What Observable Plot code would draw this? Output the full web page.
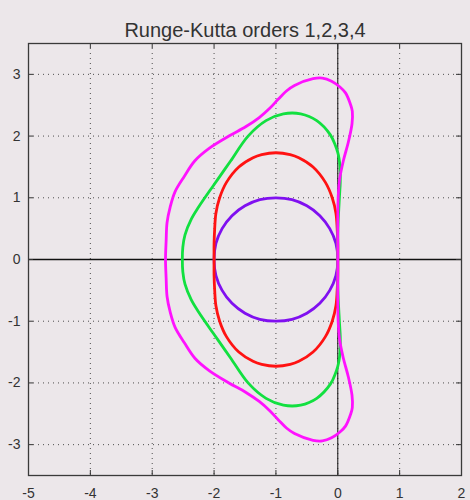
<!DOCTYPE html>
<html><head><meta charset="utf-8">
<script src="https://cdn.jsdelivr.net/npm/d3@7"></script>
<script src="https://cdn.jsdelivr.net/npm/@observablehq/plot@0.6"></script>
<style>
html,body{margin:0;padding:0;background:#ece7ea;overflow:hidden;}
</style></head><body>
<div id="chart"></div>
<script>
const title = "Runge-Kutta orders 1,2,3,4";
const xTicks = [-5, -4, -3, -2, -1, 0, 1, 2];
const yTicks = [-3, -2, -1, 0, 1, 2, 3];
const xDomain = [-5, 2];
const yDomain = [-3.5, 3.5];
const orderColors = ["#8010f0", "#ff1212", "#12e040", "#ff12ff"];

// order 1 boundary
const rk1 = [[0,0],[-0.03,0.26],[-0.13,0.5],[-0.29,0.71],[-0.5,0.87],[-0.74,0.97],[-1,1],[-1.26,0.97],[-1.5,0.87],[-1.71,0.71],[-1.87,0.5],[-1.97,0.26],[-2,0],[-1.97,-0.26],[-1.87,-0.5],[-1.71,-0.71],[-1.5,-0.87],[-1.26,-0.97],[-1,-1],[-0.74,-0.97],[-0.5,-0.87],[-0.29,-0.71],[-0.13,-0.5],[-0.03,-0.26]];
// order 2 boundary
const rk2 = [[0,0],[0,0.25],[-0.01,0.5],[-0.03,0.75],[-0.09,1.0],[-0.2,1.25],[-0.4,1.5],[-0.63,1.65],[-0.77,1.7],[-1,1.73],[-1.23,1.7],[-1.37,1.65],[-1.6,1.5],[-1.8,1.25],[-1.91,1.0],[-1.97,0.75],[-1.99,0.5],[-2,0.25],[-2,0],[-2,-0.25],[-1.99,-0.5],[-1.97,-0.75],[-1.91,-1.0],[-1.8,-1.25],[-1.6,-1.5],[-1.37,-1.65],[-1.23,-1.7],[-1,-1.73],[-0.77,-1.7],[-0.63,-1.65],[-0.4,-1.5],[-0.2,-1.25],[-0.09,-1.0],[-0.03,-0.75],[-0.01,-0.5],[0,-0.25]];
// order 3 boundary
const rk3 = [[0,0],[0.002,0.5],[0.026,1.0],[0.04,1.25],[0.037,1.5],[0.018,1.65],[0,1.73],[-0.04,1.85],[-0.12,2.02],[-0.34,2.25],[-0.6,2.36],[-0.88,2.36],[-1.16,2.25],[-1.45,2.0],[-1.73,1.6],[-1.87,1.4],[-2.01,1.2],[-2.25,0.85],[-2.37,0.65],[-2.47,0.4],[-2.505,0.2],[-2.513,0],[-2.505,-0.2],[-2.47,-0.4],[-2.37,-0.65],[-2.25,-0.85],[-2.01,-1.2],[-1.87,-1.4],[-1.73,-1.6],[-1.45,-2.0],[-1.16,-2.25],[-0.88,-2.36],[-0.6,-2.36],[-0.34,-2.25],[-0.12,-2.02],[-0.04,-1.85],[0,-1.73],[0.018,-1.65],[0.037,-1.5],[0.04,-1.25],[0.026,-1.0],[0.002,-0.5]];
// order 4 boundary
const rk4 = [[0,0],[0,0.5],[0.006,1.0],[0.03,1.3],[0.09,1.6],[0.17,1.9],[0.23,2.2],[0.235,2.4],[0.21,2.5],[0.125,2.7],[0.03,2.8],[-0.1,2.89],[-0.25,2.94],[-0.4,2.93],[-0.7,2.82],[-0.83,2.73],[-0.96,2.6],[-1.1,2.45],[-1.27,2.3],[-1.49,2.15],[-1.76,2.0],[-2.08,1.8],[-2.31,1.6],[-2.48,1.35],[-2.63,1.1],[-2.71,0.85],[-2.76,0.6],[-2.775,0.3],[-2.785,0],[-2.775,-0.3],[-2.76,-0.6],[-2.71,-0.85],[-2.63,-1.1],[-2.48,-1.35],[-2.31,-1.6],[-2.08,-1.8],[-1.76,-2.0],[-1.49,-2.15],[-1.27,-2.3],[-1.1,-2.45],[-0.96,-2.6],[-0.83,-2.73],[-0.7,-2.82],[-0.4,-2.93],[-0.25,-2.94],[-0.1,-2.89],[0.03,-2.8],[0.125,-2.7],[0.21,-2.5],[0.235,-2.4],[0.23,-2.2],[0.17,-1.9],[0.09,-1.6],[0.03,-1.3],[0.006,-1.0],[0,-0.5]];

const curves = [rk1, rk2, rk3, rk4];

const W = 470, H = 500, mL = 28, mR = 9, mT = 43, mB = 25;
const pw = W - mL - mR, ph = H - mT - mB;
const font = "'Liberation Sans', Arial, Helvetica, sans-serif";

const plot = Plot.plot({
  width: W, height: H,
  marginLeft: mL, marginRight: mR, marginTop: mT, marginBottom: mB,
  x: {domain: xDomain},
  y: {domain: yDomain},
  style: {background: "#ece7ea", fontFamily: font, color: "#333"},
  marks: [
    Plot.ruleX(xTicks, {x: d => d, stroke: "#333", strokeDasharray: "1,4", strokeOpacity: 0.85}),
    Plot.ruleY(yTicks, {y: d => d, stroke: "#333", strokeDasharray: "1,4", strokeOpacity: 0.85}),
    Plot.ruleX([0], {x: d => d, stroke: "#111", strokeWidth: 1}),
    Plot.ruleY([0], {y: d => d, stroke: "#111", strokeWidth: 1.3}),
    ...curves.map((c, i) => Plot.line(c, {x: d => d[0], y: d => d[1], stroke: orderColors[i], strokeWidth: 2.8, curve: "catmull-rom-closed", strokeLinejoin: "round"})),
    Plot.tickX(xTicks, {x: d => d, insetTop: ph - 5, stroke: "#333"}),
    Plot.tickX(xTicks, {x: d => d, insetBottom: ph - 5, stroke: "#333"}),
    Plot.tickY(yTicks, {y: d => d, insetRight: pw - 5, stroke: "#333"}),
    Plot.tickY(yTicks, {y: d => d, insetLeft: pw - 5, stroke: "#333"}),
    Plot.frame({stroke: "#3a3a3a", strokeWidth: 1.3}),
    Plot.axisX(xTicks, {tickSize: 0, tickPadding: 13, fontSize: 14, tickFormat: d => String(d)}),
    Plot.axisY(yTicks, {tickSize: 0, tickPadding: 8, fontSize: 14, tickFormat: d => String(d)}),
    Plot.text([title], {text: d => d, frameAnchor: "top", dy: -21, fontSize: 20, fill: "#333"})
  ]
});
document.getElementById("chart").appendChild(plot);
</script>
</body></html>
